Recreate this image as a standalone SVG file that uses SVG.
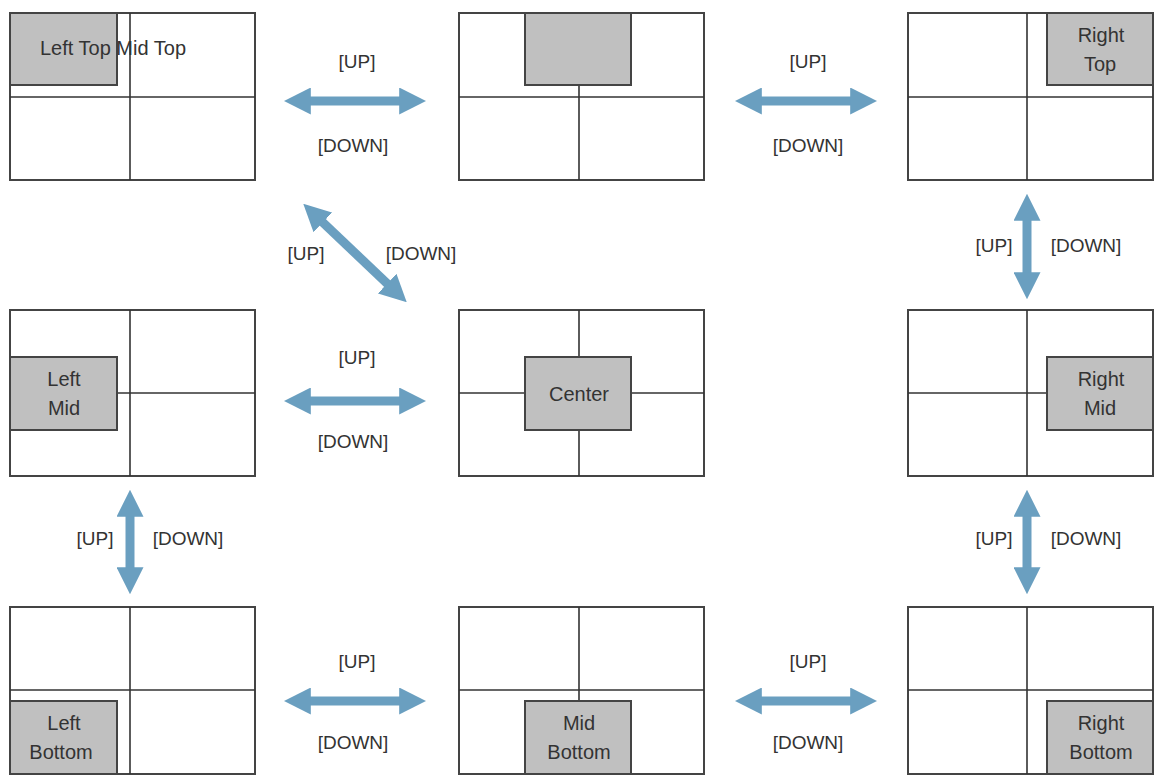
<svg xmlns="http://www.w3.org/2000/svg" width="1162" height="784" viewBox="0 0 1162 784">
<style>
.scr{fill:#fff;stroke:#444;stroke-width:2}
.ln{stroke:#333;stroke-width:1.6}
.hl{fill:#c0c0c0;stroke:#444;stroke-width:2}
text{font-family:"Liberation Sans",Arial,sans-serif;font-size:20px;fill:#333;text-anchor:middle}
.lb{font-size:19px}
.ar{stroke:#6a9fc0;stroke-width:9;fill:none;marker-start:url(#h);marker-end:url(#h)}
</style>
<defs>
<marker id="h" markerWidth="3" markerHeight="3" refX="1.2" refY="1.5" orient="auto-start-reverse" markerUnits="strokeWidth">
<path d="M0,0 L3,1.5 L0,3 Z" fill="#6a9fc0"/>
</marker>
</defs>
<rect width="1162" height="784" fill="#fff"/>
<g id="n-lt"><rect class="scr" x="10" y="13" width="245" height="167"/><rect class="hl" x="10" y="13" width="107" height="72"/><line class="ln" x1="130" y1="13" x2="130" y2="180"/><line class="ln" x1="10" y1="97" x2="255" y2="97"/><text x="113" y="55" style="text-anchor:middle">Left Top Mid Top</text></g>
<g id="n-mt"><rect class="scr" x="459" y="13" width="245" height="167"/><line class="ln" x1="579" y1="13" x2="579" y2="180"/><line class="ln" x1="459" y1="97" x2="704" y2="97"/><rect class="hl" x="525" y="13" width="106" height="72"/></g>
<g id="n-rt"><rect class="scr" x="908" y="13" width="245" height="167"/><line class="ln" x1="1027" y1="13" x2="1027" y2="180"/><line class="ln" x1="908" y1="97" x2="1153" y2="97"/><rect class="hl" x="1047" y="13" width="106" height="72"/><text x="1101" y="42">Right</text><text x="1100" y="71">Top</text></g>
<g id="n-lm"><rect class="scr" x="10" y="310" width="245" height="166"/><line class="ln" x1="130" y1="310" x2="130" y2="476"/><line class="ln" x1="10" y1="393" x2="255" y2="393"/><rect class="hl" x="10" y="357" width="107" height="73"/><text x="64" y="386">Left</text><text x="64" y="415">Mid</text></g>
<g id="n-c"><rect class="scr" x="459" y="310" width="245" height="166"/><line class="ln" x1="579" y1="310" x2="579" y2="476"/><line class="ln" x1="459" y1="393" x2="704" y2="393"/><rect class="hl" x="525" y="357" width="106" height="73"/><text x="579" y="401">Center</text></g>
<g id="n-rm"><rect class="scr" x="908" y="310" width="245" height="166"/><line class="ln" x1="1027" y1="310" x2="1027" y2="476"/><line class="ln" x1="908" y1="393" x2="1153" y2="393"/><rect class="hl" x="1047" y="357" width="106" height="73"/><text x="1101" y="386">Right</text><text x="1100" y="415">Mid</text></g>
<g id="n-lb"><rect class="scr" x="10" y="607" width="245" height="167"/><line class="ln" x1="130" y1="607" x2="130" y2="774"/><line class="ln" x1="10" y1="690" x2="255" y2="690"/><rect class="hl" x="10" y="701" width="107" height="73"/><text x="64" y="730">Left</text><text x="61" y="759">Bottom</text></g>
<g id="n-mb"><rect class="scr" x="459" y="607" width="245" height="167"/><line class="ln" x1="579" y1="607" x2="579" y2="774"/><line class="ln" x1="459" y1="690" x2="704" y2="690"/><rect class="hl" x="525" y="701" width="106" height="73"/><text x="579" y="730">Mid</text><text x="579" y="759">Bottom</text></g>
<g id="n-rb"><rect class="scr" x="908" y="607" width="245" height="167"/><line class="ln" x1="1027" y1="607" x2="1027" y2="774"/><line class="ln" x1="908" y1="690" x2="1153" y2="690"/><rect class="hl" x="1047" y="701" width="106" height="73"/><text x="1101" y="730">Right</text><text x="1101" y="759">Bottom</text></g>
<g id="connectors">
<line class="ar" x1="300" y1="101" x2="410" y2="101"/>
<line class="ar" x1="751" y1="101" x2="861" y2="101"/>
<line class="ar" x1="315" y1="215" x2="395" y2="291"/>
<line class="ar" x1="1027" y1="210" x2="1027" y2="283"/>
<line class="ar" x1="300" y1="401" x2="410" y2="401"/>
<line class="ar" x1="130" y1="506" x2="130" y2="578"/>
<line class="ar" x1="1027" y1="506" x2="1027" y2="578"/>
<line class="ar" x1="300" y1="701" x2="410" y2="701"/>
<line class="ar" x1="751" y1="701" x2="861" y2="701"/>
</g>
<g id="labels" class="lb">
<text class="lb" x="357" y="68">[UP]</text><text class="lb" x="353" y="152">[DOWN]</text>
<text class="lb" x="808" y="68">[UP]</text><text class="lb" x="808" y="152">[DOWN]</text>
<text class="lb" x="306" y="260">[UP]</text><text class="lb" x="421" y="260">[DOWN]</text>
<text class="lb" x="994" y="252">[UP]</text><text class="lb" x="1086" y="252">[DOWN]</text>
<text class="lb" x="357" y="364">[UP]</text><text class="lb" x="353" y="448">[DOWN]</text>
<text class="lb" x="95" y="545">[UP]</text><text class="lb" x="188" y="545">[DOWN]</text>
<text class="lb" x="994" y="545">[UP]</text><text class="lb" x="1086" y="545">[DOWN]</text>
<text class="lb" x="357" y="668">[UP]</text><text class="lb" x="353" y="749">[DOWN]</text>
<text class="lb" x="808" y="668">[UP]</text><text class="lb" x="808" y="749">[DOWN]</text>
</g>
</svg>
